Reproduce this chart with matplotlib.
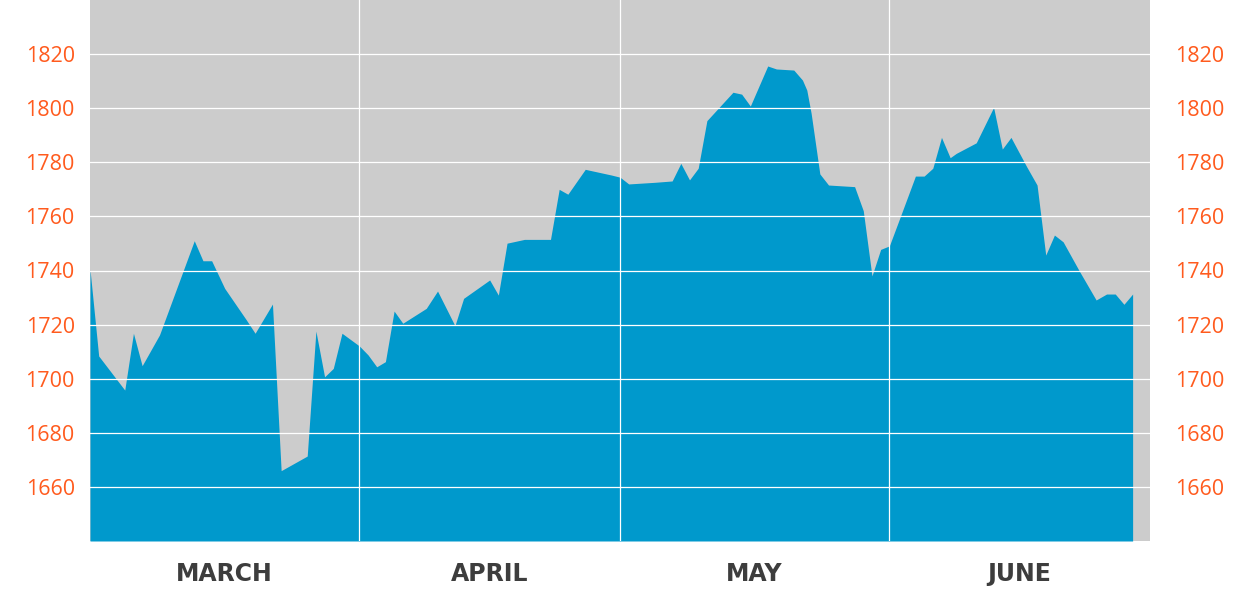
import matplotlib
matplotlib.use('Agg')
import matplotlib.pyplot as plt

# days counted from March 1
days = [0, 1, 4, 5, 6, 8, 12, 13, 14, 15.5, 18, 19, 21, 22, 25, 26, 27, 28, 29, 31,
        32, 33, 34, 35, 36, 38.7, 40, 42, 43, 46, 47, 48, 50, 53, 54, 55, 57, 60,
        61, 62, 63, 65, 67, 68, 69, 70, 71, 72.4, 74, 75, 76, 78, 79, 81, 82, 82.5,
        83, 84, 85, 88, 89, 90, 91, 92, 93.4, 95, 96, 97, 98, 99, 99.7, 102, 104,
        105, 106, 107.8, 109, 110, 111, 112, 113.9, 115.8, 117, 118, 119, 120]
values = [1740.4, 1708.4, 1695.8, 1716.8, 1704.8, 1716.2, 1751, 1743.6, 1743.6, 1733.4,
          1721.7, 1716.8, 1727.6, 1666, 1671.4, 1717.6, 1700.7, 1703.8, 1716.8, 1712.1,
          1708.8, 1704.4, 1706.3, 1725, 1720.5, 1726, 1732.4, 1719.6, 1729.7, 1736.5,
          1730.9, 1750.1, 1751.5, 1751.5, 1770, 1768.2, 1777.4, 1775.3, 1774.5, 1772,
          1772.2, 1772.6, 1773.1, 1779.6, 1773.5, 1777.8, 1795.4, 1800.3, 1805.9, 1805.2,
          1800.8, 1815.6, 1814.5, 1814.1, 1810.4, 1806.7, 1798.1, 1775.7, 1771.6, 1771,
          1762.1, 1738, 1747.8, 1749.1, 1761.1, 1774.9, 1774.9, 1777.8, 1789.2, 1781.7,
          1783.3, 1787.2, 1800.3, 1784.9, 1789.2, 1778.4, 1771.6, 1745.7, 1753.1, 1750.6,
          1739.6, 1729.1, 1731.3, 1731.3, 1727.5, 1731.3]

months = ['MARCH', 'APRIL', 'MAY', 'JUNE']
month_starts = [0, 31, 61, 92, 122]
yticks = [1660, 1680, 1700, 1720, 1740, 1760, 1780, 1800, 1820]

orange = '#ff5b1e'
blue = '#0099cc'

fig = plt.figure(figsize=(12.4, 6), dpi=100)
ax = fig.add_axes([90/1240, 59/600, 1060/1240, 541/600])
ax.set_facecolor('#cccccc')
ax.fill_between(days, values, 1640, color=blue, linewidth=0, zorder=1)

ax.set_xlim(0, 122)
ax.set_ylim(1640, 1840)
for y in yticks:
    ax.axhline(y, color='white', lw=0.9, zorder=2)
for d in month_starts[1:-1]:
    ax.axvline(d, color='white', lw=0.9, zorder=2)

for s in ax.spines.values():
    s.set_visible(False)

centers = [(a + b) / 2 for a, b in zip(month_starts[:-1], month_starts[1:])]
ax.set_xticks(centers)
ax.set_xticklabels(months, fontfamily='DejaVu Sans', fontweight='bold', fontsize=17, color='#3d3d3d')
ax.tick_params(axis='x', length=0, pad=15)

ax.set_yticks(yticks)
ax.set_yticklabels([str(v) for v in yticks], fontfamily='Open Sans', fontsize=15.5, color=orange)
ax.tick_params(axis='y', length=0, pad=11)

ax2 = ax.twinx()
ax2.set_ylim(1640, 1840)
ax2.set_yticks(yticks)
ax2.set_yticklabels([str(v) for v in yticks], fontfamily='Open Sans', fontsize=15.5, color=orange)
ax2.tick_params(axis='y', length=0, pad=18)
for s in ax2.spines.values():
    s.set_visible(False)

fig.savefig('out.png', dpi=100, facecolor='white')
